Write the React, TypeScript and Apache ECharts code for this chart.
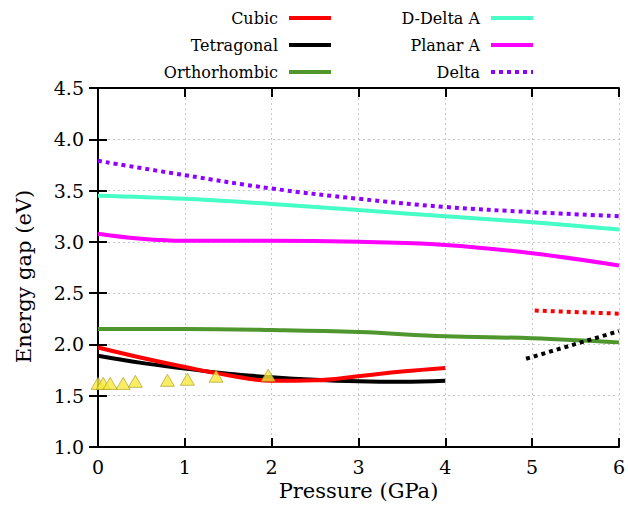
import React, { useEffect, useRef } from "react";
import * as echarts from "echarts";

const FONT = "DejaVu Serif";

const xTicks = [0, 1, 2, 3, 4, 5, 6];
const yTicks = [1.0, 1.5, 2.0, 2.5, 3.0, 3.5, 4.0, 4.5];

const cubicP = [0, 0.5, 1, 1.5, 2, 2.5, 3, 3.5, 4];
const cubicE = [1.97, 1.87, 1.78, 1.70, 1.645, 1.65, 1.69, 1.735, 1.77];
const cubicHighP = [5.03, 6];
const cubicHighE = [2.33, 2.3];

const tetraP = [0, 0.5, 1, 1.5, 2, 2.5, 3, 3.5, 4];
const tetraE = [1.89, 1.82, 1.765, 1.715, 1.68, 1.655, 1.64, 1.635, 1.645];
const tetraHighP = [4.93, 6];
const tetraHighE = [1.86, 2.13];

const orthoP = [0, 1, 2, 3, 4, 5, 6];
const orthoE = [2.15, 2.15, 2.14, 2.12, 2.08, 2.06, 2.02];

const dDeltaP = [0, 1, 2, 3, 4, 5, 6];
const dDeltaE = [3.45, 3.42, 3.37, 3.31, 3.25, 3.19, 3.12];

const planarP = [0, 0.5, 1, 2, 3, 4, 5, 6];
const planarE = [3.08, 3.03, 3.01, 3.01, 3.0, 2.97, 2.89, 2.77];

const deltaP = [0, 1, 2, 3, 4, 5, 6];
const deltaE = [3.79, 3.65, 3.52, 3.42, 3.34, 3.29, 3.25];

const exptP = [0, 0.06, 0.14, 0.29, 0.43, 0.8, 1.03, 1.36, 1.96];
const exptE = [1.62, 1.62, 1.62, 1.62, 1.64, 1.65, 1.66, 1.69, 1.7];

const legendNames = ["Cubic", "Tetragonal", "Orthorhombic", "D-Delta A", "Planar A", "Delta"];
const legendColors = ["#ff0000", "#000000", "#4f962e", "#45ffc6", "#ff00ff", "#8f00ff"];
const legendDotted = [false, false, false, false, false, true];

const zip = (xs: number[], ys: number[]) => xs.map((x, i) => [x, ys[i]]);

export default function App() {
  const ref = useRef<HTMLDivElement>(null);
  useEffect(() => {
    if (!ref.current) return;
    const chart = echarts.init(ref.current, undefined, { renderer: "svg" });

    const lineSeries = (name: string, xs: number[], ys: number[], color: string, dotted = false, smooth: number | boolean = 0.4) => ({
      name,
      type: "line",
      data: zip(xs, ys),
      smooth,
      showSymbol: false,
      symbol: "none",
      lineStyle: { color, width: 4, type: dotted ? [4, 4] : "solid", cap: "butt" },
      z: 3,
    });

    const graphics: any[] = [];
    legendNames.forEach((n, i) => {
      const col = Math.floor(i / 3);
      const row = i % 3;
      const textRight = col === 0 ? 278 : 480;
      const lx0 = col === 0 ? 289 : 491;
      const y = 18 + row * 27;
      graphics.push({
        type: "text",
        x: textRight,
        y,
        style: { text: n, fontFamily: FONT, fontSize: 16, fill: "#000", align: "right", verticalAlign: "middle" },
      });
      graphics.push({
        type: "line",
        shape: { x1: lx0, y1: y, x2: lx0 + 42, y2: y },
        style: { stroke: legendColors[i], lineWidth: 4, lineDash: legendDotted[i] ? [4, 4] : null },
      });
    });

    const axisLabelStyle = { fontFamily: FONT, fontSize: 19, color: "#000" };

    chart.setOption({
      animation: false,
      backgroundColor: "#fff",
      grid: { left: 98, right: 7, top: 88, bottom: 63 },
      xAxis: [
        {
          type: "value",
          min: 0,
          max: 6,
          interval: 1,
          name: "Pressure (GPa)",
          nameLocation: "middle",
          nameGap: 33,
          nameTextStyle: { fontFamily: FONT, fontSize: 21, color: "#000" },
          axisLine: { show: true, lineStyle: { color: "#000", width: 2 } },
          axisTick: { show: true, inside: true, length: 9, lineStyle: { color: "#000", width: 2 } },
          axisLabel: { ...axisLabelStyle, margin: 10, formatter: (v: number) => (xTicks.includes(v) ? String(v) : "") },
          splitLine: { show: true, lineStyle: { color: "#c8c8c8", type: [2, 3], width: 1 } },
        },
        {
          type: "value",
          position: "top",
          min: 0,
          max: 6,
          interval: 1,
          axisLine: { show: true, lineStyle: { color: "#000", width: 2 } },
          axisTick: { show: true, inside: true, length: 9, lineStyle: { color: "#000", width: 2 } },
          axisLabel: { show: false },
          splitLine: { show: false },
        },
      ],
      yAxis: [
        {
          type: "value",
          min: 1.0,
          max: 4.5,
          interval: 0.5,
          name: "Energy gap (eV)",
          nameLocation: "middle",
          nameGap: 64,
          nameTextStyle: { fontFamily: FONT, fontSize: 21, color: "#000", padding: [0, 18, 0, 0] },
          axisLine: { show: true, lineStyle: { color: "#000", width: 2 } },
          axisTick: { show: true, inside: true, length: 9, lineStyle: { color: "#000", width: 2 } },
          axisLabel: { ...axisLabelStyle, margin: 14, formatter: (v: number) => (yTicks.some((t) => Math.abs(t - v) < 1e-9) ? v.toFixed(1) : "") },
          splitLine: { show: true, lineStyle: { color: "#c8c8c8", type: [2, 3], width: 1 } },
        },
        {
          type: "value",
          position: "right",
          min: 1.0,
          max: 4.5,
          interval: 0.5,
          axisLine: { show: true, lineStyle: { color: "#000", width: 2 } },
          axisTick: { show: true, inside: true, length: 9, lineStyle: { color: "#000", width: 2 } },
          axisLabel: { show: false },
          splitLine: { show: false },
        },
      ],
      series: [
        lineSeries("Orthorhombic", orthoP, orthoE, legendColors[2]),
        lineSeries("D-Delta A", dDeltaP, dDeltaE, legendColors[3]),
        lineSeries("Planar A", planarP, planarE, legendColors[4]),
        lineSeries("Delta", deltaP, deltaE, legendColors[5], true),
        lineSeries("Tetragonal", tetraP, tetraE, legendColors[1]),
        lineSeries("Cubic", cubicP, cubicE, legendColors[0]),
        lineSeries("Cubic high", cubicHighP, cubicHighE, legendColors[0], true, false),
        lineSeries("Tetragonal high", tetraHighP, tetraHighE, legendColors[1], true, false),
        {
          name: "Experiment",
          type: "scatter",
          data: zip(exptP, exptE),
          symbol: "triangle",
          symbolSize: [14, 12],
          itemStyle: { color: "#f7e83c", borderColor: "#a8981c", borderWidth: 0.8 },
          z: 5,
        },
      ],
      graphic: graphics,
    });
    return () => chart.dispose();
  }, []);
  return <div ref={ref} style={{ position: "fixed", left: 0, top: 0, width: 628, height: 510 }} />;
}
